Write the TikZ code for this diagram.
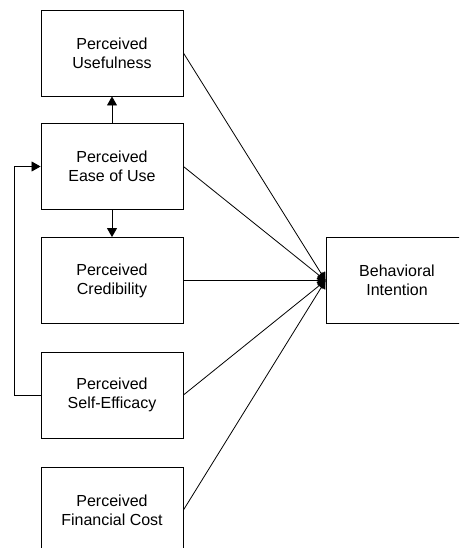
\documentclass[tikz,border=0pt]{standalone}
\usepackage{fontspec}
\setmainfont{Liberation Sans}
\usetikzlibrary{arrows.meta}
\begin{document}
\begin{tikzpicture}[x=1pt,y=-1pt,
  box/.style={draw=black,line width=0.9pt,minimum width=142pt,minimum height=86pt,align=center,inner sep=0pt,font=\fontsize{16}{19}\selectfont},
  link/.style={line width=0.8pt},
  tip/.style={-{Triangle[length=9pt,width=10pt]}},
  fan/.style={-{Triangle[length=8pt,width=9pt]}}]
\useasboundingbox (0,0) rectangle (459,548);
\clip (0,0) rectangle (459,548);
\node[box] (pu) at (112,53) {Perceived\\Usefulness};
\node[box] (peou) at (112,166.5) {Perceived\\Ease of Use};
\node[box] (pc) at (112,280.5) {Perceived\\Credibility};
\node[box] (pse) at (112,395) {Perceived\\Self-Efficacy};
\node[box] (pfc) at (112,510) {Perceived\\Financial Cost};
\node[box] (bi) at (397,280.5) {Behavioral\\Intention};
\coordinate (conv) at (bi.west);
\draw[link,tip] (peou.north) -- (pu.south);
\draw[link,tip] (peou.south) -- (pc.north);
\draw[link,tip] (pse.west) -- (14,395) |- (peou.west);
\draw[link,fan] (pu.east) -- (conv);
\draw[link,fan] (peou.east) -- (conv);
\draw[link,fan] (pc.east) -- (conv);
\draw[link,fan] (pse.east) -- (conv);
\draw[link,fan] (pfc.east) -- (conv);
\end{tikzpicture}
\end{document}
